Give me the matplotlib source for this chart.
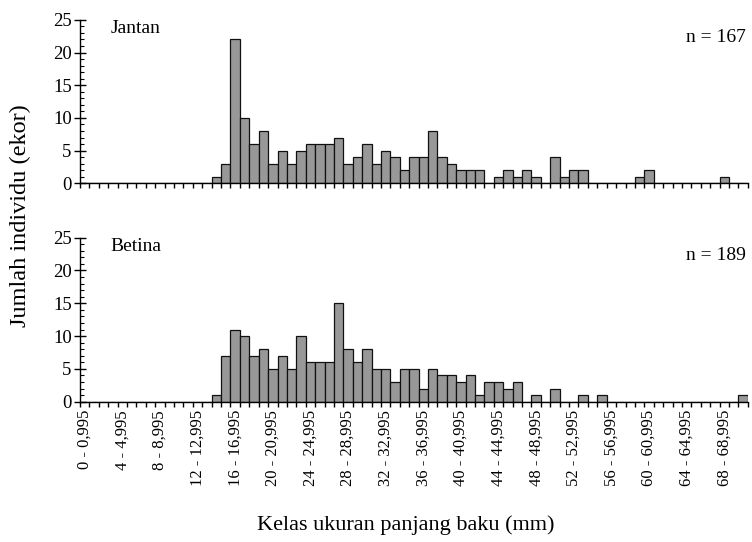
import numpy as np
import matplotlib.pyplot as plt
from matplotlib.ticker import MultipleLocator, FixedLocator

# class boundaries 0 - 70 (mm), one bar per 1 mm class
classes = np.arange(71)
class_labels = [f"{c} - {c},995" for c in classes]

jantan = [0]*14 + [1, 3, 22, 10, 6, 8, 3, 5, 3, 5, 6, 6, 6, 7, 3, 4, 6, 3, 5, 4,
                   2, 4, 4, 8, 4, 3, 2, 2, 2, 0, 1, 2, 1, 2, 1, 0, 4, 1, 2, 2,
                   0, 0, 0, 0, 0, 1, 2, 0, 0, 0, 0, 0, 0, 0, 1, 0, 0]
betina = [0]*14 + [1, 7, 11, 10, 7, 8, 5, 7, 5, 10, 6, 6, 6, 15, 8, 6, 8, 5, 5, 3,
                   5, 5, 2, 5, 4, 4, 3, 4, 1, 3, 3, 2, 3, 0, 1, 0, 2, 0, 0, 1,
                   0, 1, 0, 0, 0, 0, 0, 0, 0, 0, 0, 0, 0, 0, 0, 0, 1]

panels = [("Jantan", "n = 167", jantan), ("Betina", "n = 189", betina)]

plt.rcParams['font.family'] = ['Liberation Serif', 'DejaVu Serif']

fig = plt.figure(figsize=(7.52, 5.42), dpi=100)
ax_top = fig.add_axes([0.1064, 0.6618, 0.888, 0.3016])
ax_bot = fig.add_axes([0.1064, 0.2589, 0.888, 0.3026])

for ax, (name, ntext, vals) in zip([ax_top, ax_bot], panels):
    ax.bar(classes, vals, width=1.0, color='#989898', edgecolor='#111111', linewidth=0.9)
    ax.set_xlim(-0.5, 70.5)
    ax.set_ylim(0, 25)
    for s in ['top', 'right']:
        ax.spines[s].set_visible(False)
    for s in ['left', 'bottom']:
        ax.spines[s].set_linewidth(1.0)
        ax.spines[s].set_color('black')

    # y axis: crossing major ticks, inner minor ticks
    ax.yaxis.set_major_locator(MultipleLocator(5))
    ax.yaxis.set_minor_locator(MultipleLocator(1))
    ax.tick_params(axis='y', which='major', direction='inout', length=8, width=1,
                   labelsize=13.5, pad=2)
    ax.tick_params(axis='y', which='minor', direction='in', length=2.6, width=0.8)

    # x axis: ticks at class edges, labels at every 4th class centre
    ax.xaxis.set_major_locator(FixedLocator(np.arange(-0.5, 71, 1)))
    ax.xaxis.set_minor_locator(FixedLocator(classes[::4]))
    ax.tick_params(axis='x', which='major', direction='out', length=3.8, width=1,
                   labelbottom=False)
    ax.tick_params(axis='x', which='minor', length=0)

    ax.text(0.046, 0.948, name, transform=ax.transAxes, fontsize=14,
            ha='left', va='center')
    ax.text(0.997, 0.89, ntext, transform=ax.transAxes, fontsize=14,
            ha='right', va='center')

ax_bot.set_xticks(classes[::4], [class_labels[i] for i in classes[::4]], minor=True)
ax_bot.tick_params(axis='x', which='minor', labelsize=12, labelrotation=90, pad=6)
ax_top.tick_params(axis='x', which='minor', labelbottom=False)

fig.text(0.54, 0.031, "Kelas ukuran panjang baku (mm)", fontsize=16,
         ha='center', va='center')
fig.text(0.027, 0.603, "Jumlah individu (ekor)", fontsize=17.5, rotation=90,
         ha='center', va='center')

fig.savefig("out.png", dpi=100)
